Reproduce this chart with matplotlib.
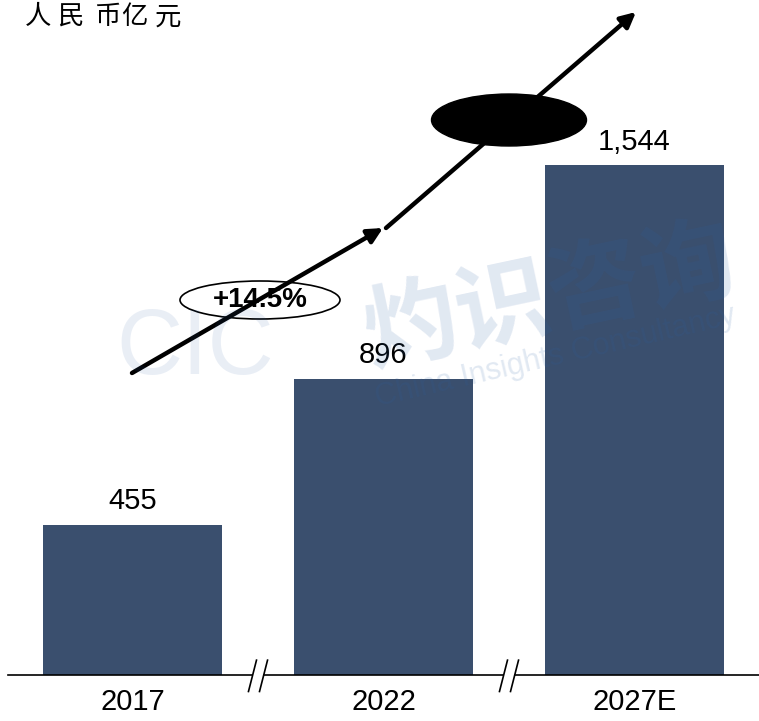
import matplotlib.pyplot as plt
from matplotlib.patches import Ellipse
import numpy as np

plt.rcParams['font.family'] = ['Liberation Sans', 'Noto Sans CJK SC', 'DejaVu Sans']

# market size, RMB 100m
years = ['2017', '2022', '2027E']
values = [455, 896, 1544]
cagr_label = '+14.5%'
unit_label = '人民币亿元'

bar_color = '#3A4F6E'
x = np.arange(len(years))

fig = plt.figure(figsize=(7.59, 7.21), dpi=100)
ax = fig.add_axes([8 / 759, 46 / 721, 751 / 759, 675 / 721])

# 0.33 px per unit, 251 px between bars
px_per_unit = 0.33
ax.set_ylim(0, 675 / px_per_unit)
ax.set_xlim((8 - 132.5) / 251, (759 - 132.5) / 251)

ax.bar(x, values, width=0.713, color=bar_color, zorder=2)
for xi, v in zip(x, values):
    ax.text(xi, v + 30, f'{v:,}', ha='center', va='bottom', fontsize=21, zorder=5)

# x axis line with break marks between the bars
for s in ['top', 'right', 'left', 'bottom']:
    ax.spines[s].set_visible(False)
ax.set_yticks([])
ax.set_xticks(x)
ax.set_xticklabels(years, fontsize=21)
ax.tick_params(axis='x', length=0, pad=9)

gap = 0.022
break_pos = [0.5, 1.5]
segs = [ax.get_xlim()[0]]
for b in break_pos:
    segs += [b - gap, b + gap]
segs.append(ax.get_xlim()[1])
for a, b in zip(segs[::2], segs[1::2]):
    ax.plot([a, b], [0, 0], color='black', lw=1.2, clip_on=False, zorder=3)
for b in break_pos:
    for dx in (-gap, gap):
        ax.plot([b + dx - 0.016, b + dx + 0.016], [-50, 45], color='black',
                lw=1.2, clip_on=False, zorder=3)

# growth arrows
def px_to_data(px, py):
    return ((px - 132.5) / 251, (675 - py) / px_per_unit)

arrow_kw = dict(arrowstyle='-|>,head_length=0.9,head_width=0.45', color='black',
                lw=3.2, shrinkA=0, shrinkB=0)
ax.annotate('', xy=px_to_data(383, 228), xytext=px_to_data(132, 373),
            arrowprops=arrow_kw, zorder=4)
ax.annotate('', xy=px_to_data(636, 12), xytext=px_to_data(386, 228),
            arrowprops=arrow_kw, zorder=4)

# CAGR ellipses
cx, cy = px_to_data(260, 300)
ax.add_patch(Ellipse((cx, cy), 160 / 251, 38 / px_per_unit, facecolor='none',
                     edgecolor='black', lw=1.2, zorder=4))
ax.text(cx, cy, cagr_label, ha='center', va='center', fontsize=20,
        fontweight='bold', zorder=5)
ex, ey = px_to_data(509, 120)
ax.add_patch(Ellipse((ex, ey), 155 / 251, 52 / px_per_unit, facecolor='black',
                     edgecolor='black', zorder=4))

# unit label, one glyph at a time for the wide spacing
for ch, cxp in zip(unit_label, [38, 70, 107, 134, 168]):
    fig.text(cxp / 759, 1 - 17 / 721, ch, fontsize=19, style='italic',
             family=['Noto Sans CJK SC'], ha='center', va='center')

# watermark
wm = '#2B5FA6'
fig.text(550 / 759, 1 - 298 / 721, '灼识咨询', fontsize=68, fontweight='bold',
         family=['Noto Sans CJK SC'], color=wm, alpha=0.14, rotation=12,
         ha='center', va='center', zorder=10)
fig.text(555 / 759, 1 - 357 / 721, 'China Insights Consultancy', fontsize=22,
         color=wm, alpha=0.14, rotation=13, ha='center', va='center', zorder=10)
fig.text(195 / 759, 1 - 350 / 721, 'CIC', fontsize=66,
         color=wm, alpha=0.1, ha='center', va='center', zorder=10)

fig.savefig('out.png', dpi=100)
